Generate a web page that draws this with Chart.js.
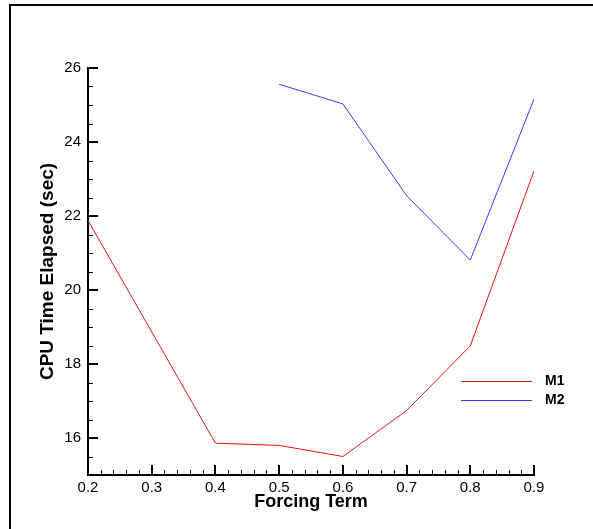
<!DOCTYPE html>
<html>
<head>
<meta charset="utf-8">
<script src="https://cdn.jsdelivr.net/npm/chart.js@4.4.0/dist/chart.umd.min.js"></script>
<style>
  html, body { margin: 0; padding: 0; background: #fff; }
  canvas { display: block; }
</style>
</head>
<body>
<canvas id="chart" width="593" height="529"></canvas>
<script>
// values
const forcingM1 = [0.2, 0.4, 0.5, 0.6, 0.7, 0.8, 0.9];
const cpuM1 = [21.88, 15.86, 15.8, 15.5, 16.74, 18.49, 23.22];
const forcingM2 = [0.5, 0.6, 0.7, 0.8, 0.9];
const cpuM2 = [25.56, 25.03, 22.55, 20.81, 25.16];
const seriesNames = ["M1", "M2"];
const xTicks = [0.2, 0.3, 0.4, 0.5, 0.6, 0.7, 0.8, 0.9];
const yTicks = [16, 18, 20, 22, 24, 26];

const RED = "#e01414";
const BLUE = "#3a3aff";

Chart.defaults.font.family = "'Liberation Sans', Arial, sans-serif";
Chart.defaults.color = "#000";

// tecplot style frame, inward ticks and legend
const decor = {
  id: "decor",
  beforeDraw(chart) {
    const ctx = chart.ctx;
    ctx.save();
    ctx.strokeStyle = "#000";
    ctx.lineWidth = 2;
    ctx.beginPath();
    ctx.moveTo(10, 529);
    ctx.lineTo(10, 5);
    ctx.lineTo(593, 5);
    ctx.stroke();
    ctx.restore();
  },
  afterDraw(chart) {
    const { ctx, chartArea, scales } = chart;
    const x = scales.x, y = scales.y;
    ctx.save();
    ctx.strokeStyle = "#000";

    // x ticks: major every 0.1, minor every 0.02
    for (let i = 0; i <= 35; i++) {
      const v = 0.2 + i * 0.02;
      const major = i % 5 === 0;
      const px = Math.round(x.getPixelForValue(v));
      ctx.lineWidth = major ? 2 : 1;
      ctx.beginPath();
      const off = major ? 0 : 0.5;
      ctx.moveTo(px + off, chartArea.bottom);
      ctx.lineTo(px + off, chartArea.bottom - (major ? 10 : 5));
      ctx.stroke();
    }

    // y ticks: major every 2, minor every 0.5
    for (let i = 0; i <= 22; i++) {
      const v = 15 + i * 0.5;
      const major = v % 2 === 0;
      const py = Math.round(y.getPixelForValue(v));
      ctx.lineWidth = major ? 2 : 1;
      const off = major ? 0 : 0.5;
      ctx.beginPath();
      ctx.moveTo(chartArea.left, py + off);
      ctx.lineTo(chartArea.left + (major ? 10 : 5), py + off);
      ctx.stroke();
    }

    // legend
    const colors = [RED, BLUE];
    ctx.font = "bold 14px 'Liberation Sans', Arial, sans-serif";
    ctx.textBaseline = "middle";
    ctx.fillStyle = "#000";
    seriesNames.forEach((name, k) => {
      const ly = chartArea.top + 313.5 + k * 19;
      ctx.strokeStyle = colors[k];
      ctx.lineWidth = 1;
      ctx.beginPath();
      ctx.moveTo(chartArea.right - 73, ly);
      ctx.lineTo(chartArea.right - 2, ly);
      ctx.stroke();
      ctx.fillText(name, chartArea.right + 11, ly);
    });
    ctx.restore();
  }
};

new Chart(document.getElementById("chart"), {
  type: "line",
  data: {
    datasets: [
      {
        label: seriesNames[0],
        data: forcingM1.map((f, i) => ({ x: f, y: cpuM1[i] })),
        borderColor: RED,
        borderWidth: 1,
        pointRadius: 0,
        tension: 0
      },
      {
        label: seriesNames[1],
        data: forcingM2.map((f, i) => ({ x: f, y: cpuM2[i] })),
        borderColor: BLUE,
        borderWidth: 1,
        pointRadius: 0,
        tension: 0
      }
    ]
  },
  options: {
    responsive: false,
    animation: false,
    layout: { padding: { left: 0, top: 68, right: 59, bottom: 0 } },
    plugins: {
      legend: { display: false },
      tooltip: { enabled: false }
    },
    scales: {
      x: {
        type: "linear",
        min: 0.2,
        max: 0.9,
        afterBuildTicks: (s) => { s.ticks = xTicks.map(v => ({ value: v })); },
        afterFit: (s) => { s.height = 54; },
        grid: { display: false, drawTicks: false },
        border: { color: "#000", width: 2 },
        ticks: {
          padding: 4,
          font: { size: 15 },
          callback: (v) => v.toFixed(1),
          maxRotation: 0
        },
        title: {
          display: true,
          text: "Forcing Term",
          font: { size: 18, weight: "bold" },
          padding: { top: 0, bottom: 16 }
        }
      },
      y: {
        min: 15,
        max: 26,
        afterBuildTicks: (s) => { s.ticks = yTicks.map(v => ({ value: v })); },
        afterFit: (s) => { s.width = 88; },
        grid: { display: false, drawTicks: false },
        border: { color: "#000", width: 2 },
        ticks: {
          padding: 7,
          font: { size: 15 }
        },
        title: {
          display: true,
          text: "CPU Time Elapsed (sec)",
          font: { size: 19, weight: "bold" },
          padding: { top: 36, bottom: 0 }
        }
      }
    }
  },
  plugins: [decor]
});
</script>
</body>
</html>
